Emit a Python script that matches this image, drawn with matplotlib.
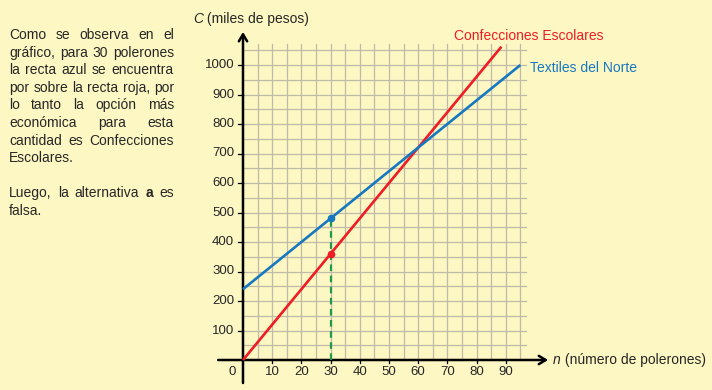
import matplotlib
matplotlib.use("Agg")
import matplotlib.pyplot as plt
import numpy as np

plt.rcParams['font.family'] = ['Liberation Sans', 'DejaVu Sans']

# ---- data ----
n_textiles = [0, 95]
c_textiles = [240, 1000]
n_confec = [0, 88.5]
c_confec = [0, 1062]
n_mark = 30
c_mark_textiles = 480
c_mark_confec = 360
x_ticks = [10, 20, 30, 40, 50, 60, 70, 80, 90]
y_ticks = [100, 200, 300, 400, 500, 600, 700, 800, 900, 1000]
label_textiles = "Textiles del Norte"
label_confec = "Confecciones Escolares"

paragraph1 = ["Como se observa en el",
              "gráfico, para 30 polerones",
              "la recta azul se encuentra",
              "por sobre la recta roja, por",
              "lo tanto la opción más",
              "económica para esta",
              "cantidad es Confecciones",
              "Escolares."]

BG = '#fdf7c3'
RED = '#ee1d25'
BLUE = '#1678c0'
GREEN = '#1e9a48'
GRID = '#bfbba8'
TXT = '#262626'

W, H = 712, 390
fig = plt.figure(figsize=(W / 100, H / 100), dpi=100, facecolor=BG)

# pixel mapping
x0px, pxu = 243.0, 2.92   # n=0 at x pixel 243
y0px, pyu = 360.0, 0.295  # C=0 at y pixel 360
ax_left_px, ax_right_px = 190, 712
ax = fig.add_axes([ax_left_px / W, 0, (ax_right_px - ax_left_px) / W, 1])
ax.set_facecolor(BG)
ax.set_xlim((ax_left_px - x0px) / pxu, (ax_right_px - x0px) / pxu)
ax.set_ylim((y0px - H) / pyu, y0px / pyu)
ax.axis('off')

# grid
gx_max, gy_max = 97, 1070
for xv in np.arange(5, 96, 5):
    ax.plot([xv, xv], [0, gy_max], color=GRID, lw=0.9, zorder=1)
for yv in np.arange(50, 1051, 50):
    ax.plot([0, gx_max], [yv, yv], color=GRID, lw=0.9, zorder=1)

# axes with arrows
ax.annotate('', xy=(104.5, 0), xytext=(-8.5, 0),
            arrowprops=dict(arrowstyle='->,head_length=0.5,head_width=0.3', lw=1.8, color='black',
                            shrinkA=0, shrinkB=0), zorder=3)
ax.annotate('', xy=(0, 1112), xytext=(0, -78),
            arrowprops=dict(arrowstyle='->,head_length=0.5,head_width=0.3', lw=1.8, color='black',
                            shrinkA=0, shrinkB=0), zorder=3)

# ticks
for yv in y_ticks:
    ax.plot([-1.6, 0], [yv, yv], color='black', lw=0.9, zorder=3)
    ax.text(-3.0, yv, str(yv), ha='right', va='center', fontsize=9.5, color=TXT)
for xv in x_ticks:
    ax.plot([xv, xv], [0, -10], color='black', lw=0.9, zorder=3)
    ax.text(xv, -42, str(xv), ha='center', va='center', fontsize=9.5, color=TXT)
ax.text(-3.8, -42, '0', ha='center', va='center', fontsize=9.5, color=TXT)

# lines
ax.plot(n_confec, c_confec, color=RED, lw=1.9, zorder=4, solid_capstyle='butt')
ax.plot(n_textiles, c_textiles, color=BLUE, lw=1.9, zorder=4, solid_capstyle='butt')
ax.plot([n_mark, n_mark], [0, c_mark_textiles], color=GREEN, lw=1.6, ls=(0, (3, 2)), zorder=3.5)
ax.plot([n_mark], [c_mark_textiles], 'o', color=BLUE, ms=4.5, zorder=5)
ax.plot([n_mark], [c_mark_confec], 'o', color=RED, ms=4.5, zorder=5)

fig.canvas.draw()
renderer = fig.canvas.get_renderer()
fs = 10.0


def text_width(w, weight='normal', style='normal', size=fs):
    t = fig.text(0, 0, w, fontsize=size, fontweight=weight, fontstyle=style)
    bb = t.get_window_extent(renderer=renderer)
    t.remove()
    return bb.width


def put(x_px, y_px, s, color=TXT, weight='normal', style='normal', size=fs, ha='left'):
    fig.text(x_px / W, 1 - y_px / H, s, fontsize=size, fontweight=weight, fontstyle=style,
             ha=ha, va='center', color=color)


# series labels
put(454, 36, label_confec, color=RED)
put(530, 68, label_textiles, color=BLUE)

# axis titles
put(193, 19, 'C', style='italic')
put(193 + text_width('C', style='italic'), 19, ' (miles de pesos)')
put(553, 360, 'n', style='italic')
put(553 + text_width('n', style='italic'), 360, ' (número de polerones)')

# left justified paragraph
left_px, right_px = 9.0, 174.0


def justify_line(words, y_px, justify=True, weights=None):
    if weights is None:
        weights = ['normal'] * len(words)
    widths = [text_width(w, wt) for w, wt in zip(words, weights)]
    if justify and len(words) > 1:
        gap = (right_px - left_px - sum(widths)) / (len(words) - 1)
    else:
        gap = text_width('a b') - text_width('ab')
    x = left_px
    for w, wd, wt in zip(words, widths, weights):
        put(x, y_px, w, weight=wt)
        x += wd + gap


y = 35.0
dy = 17.6
for i, line in enumerate(paragraph1):
    justify_line(line.split(), y, justify=(i < len(paragraph1) - 1))
    y += dy
y_l = 193.0
justify_line(["Luego,", "la", "alternativa", "a", "es"], y_l, True,
             ['normal', 'normal', 'normal', 'bold', 'normal'])
justify_line(["falsa."], y_l + dy, False)

fig.savefig('out.png', dpi=100, facecolor=BG)
